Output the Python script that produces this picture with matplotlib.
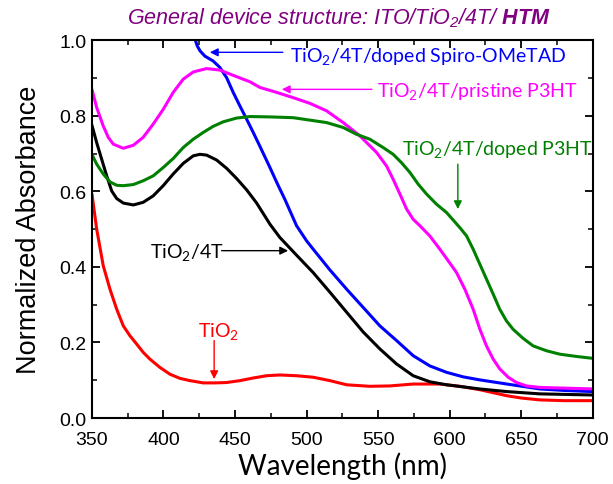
import numpy as np
import matplotlib
matplotlib.use('Agg')
import matplotlib.pyplot as plt
import matplotlib.ticker as ticker

# ─── DATA ────────────────────────────────────────────────────────────────────
tio2_nm  = [350, 353.3, 357.9, 362.6, 367.3, 371.9, 376.5, 381.2, 385.8, 390.5, 397.5,
            404.5, 411.5, 418.5, 427.8, 436, 444.1, 453.4, 462.7, 472, 481.3, 493,
            504.6, 516.3, 528, 544.2, 558.2, 574.5, 593.1, 607.1, 621, 640, 650, 663,
            680, 700]
tio2_abs = [0.593, 0.500, 0.403, 0.341, 0.288, 0.244, 0.218, 0.196, 0.174, 0.156, 0.134,
            0.116, 0.105, 0.099, 0.093, 0.093, 0.094, 0.099, 0.106, 0.112, 0.114, 0.112,
            0.108, 0.099, 0.088, 0.084, 0.085, 0.090, 0.090, 0.084, 0.075, 0.059, 0.053,
            0.048, 0.046, 0.046]

t4_nm  = [350, 353.3, 356.8, 360.3, 363.8, 367.3, 371.9, 378.9, 385.8, 392.8, 399.8,
          406.8, 413.8, 420.8, 425.4, 430.1, 437.1, 444.1, 451.1, 458.1, 465.1, 474.4,
          481.3, 493, 504.6, 516.3, 528, 539.5, 551.2, 562.9, 574.5, 586.1, 597.8,
          621, 640, 663, 700]
t4_abs = [0.775, 0.729, 0.685, 0.641, 0.601, 0.581, 0.569, 0.564, 0.571, 0.588, 0.615,
          0.646, 0.674, 0.694, 0.698, 0.696, 0.683, 0.661, 0.634, 0.604, 0.569, 0.513,
          0.478, 0.431, 0.385, 0.333, 0.280, 0.228, 0.183, 0.143, 0.112, 0.096, 0.088,
          0.077, 0.070, 0.064, 0.061]

spiro_nm  = [419, 422, 423.6, 425.5, 428.9, 434.7, 439.4, 444.1, 448.7, 453.4, 458.1,
             462.7, 467.4, 474.4, 479.6, 484.8, 493, 500, 504.6, 516.3, 528, 539.5,
             551.2, 562.9, 574.5, 586.1, 597.8, 609.4, 621, 640, 663, 680, 700]
spiro_abs = [1.06, 1.003, 0.985, 0.972, 0.958, 0.945, 0.928, 0.901, 0.862, 0.826, 0.791,
             0.756, 0.719, 0.663, 0.620, 0.579, 0.509, 0.469, 0.447, 0.392, 0.341, 0.293,
             0.244, 0.205, 0.165, 0.138, 0.121, 0.109, 0.101, 0.090, 0.077, 0.073, 0.070]

prist_nm  = [350, 353.3, 357.9, 361.4, 364.9, 371.9, 378.9, 385.8, 392.8, 399.8, 406.8,
             413.8, 420.8, 430.1, 439.4, 448.7, 460.4, 467.4, 479, 490.6, 502.3, 514,
             525.6, 537.2, 548.9, 555.9, 560.5, 565.2, 569.9, 574.5, 579.2, 586.1,
             593.1, 599, 604.8, 610.6, 616.4, 621.1, 625.7, 630.4, 635, 640.9, 646.7,
             653.7, 663, 681.6, 700]
prist_abs = [0.870, 0.822, 0.773, 0.743, 0.725, 0.714, 0.722, 0.743, 0.778, 0.817, 0.862,
             0.897, 0.916, 0.925, 0.921, 0.907, 0.890, 0.875, 0.862, 0.848, 0.833, 0.813,
             0.782, 0.747, 0.703, 0.667, 0.632, 0.593, 0.553, 0.526, 0.509, 0.482,
             0.447, 0.416, 0.385, 0.341, 0.288, 0.235, 0.191, 0.156, 0.130, 0.108, 0.094,
             0.085, 0.081, 0.079, 0.077]

doped_nm  = [350, 353.3, 357.9, 362.6, 367.3, 371.9, 378.9, 385.8, 392.8, 399.8, 406.8,
             413.8, 420.8, 427.8, 434.7, 441.7, 451.1, 460.4, 474.4, 490.6, 514, 525.6,
             534.9, 544.2, 553.5, 560.5, 566.3, 572.2, 578, 583.8, 590.8, 597.8, 607.1,
             611.8, 616.4, 621.1, 625.7, 630.4, 635, 639.7, 644.3, 651.3, 658.3, 667.7,
             677, 688.6, 700]
doped_abs = [0.698, 0.672, 0.646, 0.625, 0.616, 0.615, 0.618, 0.628, 0.641, 0.663, 0.687,
             0.716, 0.738, 0.756, 0.772, 0.784, 0.794, 0.798, 0.797, 0.795, 0.782, 0.769,
             0.751, 0.738, 0.716, 0.698, 0.676, 0.650, 0.619, 0.593, 0.566, 0.544, 0.504,
             0.482, 0.447, 0.407, 0.368, 0.328, 0.288, 0.257, 0.235, 0.211, 0.191, 0.178,
             0.169, 0.163, 0.158]

# ─── STYLE ───────────────────────────────────────────────────────────────────
plt.rcParams.update({
    'font.family': 'Liberation Sans',
    'mathtext.default': 'regular',
    'mathtext.fontset': 'custom',
    'mathtext.bf': 'Liberation Sans:italic:bold',
    'axes.linewidth': 1.5,
    'xtick.direction': 'in',
    'ytick.direction': 'in',
    'xtick.top': True,
    'ytick.right': True,
    'lines.solid_joinstyle': 'round',
    'lines.solid_capstyle': 'round',
})

LW = 2.2
ANN_FONT = 'Lato'
ANN_SIZE = 14

fig = plt.figure(figsize=(6.13, 4.85), dpi=100)
ax = fig.add_axes([0.150, 0.136, 0.817, 0.779])

ax.plot(tio2_nm,  tio2_abs,  color='#ff0000', lw=LW)
ax.plot(t4_nm,    t4_abs,    color='black',   lw=LW)
ax.plot(spiro_nm, spiro_abs, color='#0000ff', lw=LW)
ax.plot(prist_nm, prist_abs, color='#ff00ff', lw=LW)
ax.plot(doped_nm, doped_abs, color='#008000', lw=LW)

ax.set_xlim(350, 700)
ax.set_ylim(0, 1.0)
ax.xaxis.set_major_locator(ticker.MultipleLocator(50))
ax.xaxis.set_minor_locator(ticker.MultipleLocator(25))
ax.yaxis.set_major_locator(ticker.MultipleLocator(0.2))
ax.yaxis.set_minor_locator(ticker.MultipleLocator(0.1))
ax.yaxis.set_major_formatter(ticker.FormatStrFormatter('%.1f'))
ax.tick_params(which='major', length=6, width=1.3, labelsize=14)
ax.tick_params(axis='x', which='major', pad=9)
ax.tick_params(axis='y', which='major', pad=4)
ax.tick_params(which='minor', length=3.5, width=1.1)

ax.set_xlabel('Wavelength (nm)', family=ANN_FONT, fontsize=20, labelpad=3)
ax.set_ylabel('Normalized Absorbance', fontsize=19.5, labelpad=12)

fig.text(0.552, 0.962, r'General device structure: ITO/TiO$_2$/4T/ $\mathbf{HTM}$',
         color='#800080', fontsize=15.5, style='italic', ha='center', va='center')

# ─── ANNOTATIONS ─────────────────────────────────────────────────────────────
def label(text, color, txy, tail, head):
    ax.text(txy[0], txy[1], text, color=color, family=ANN_FONT, fontsize=ANN_SIZE,
            ha='left', va='center')
    ax.annotate('', xy=head, xytext=tail,
                arrowprops=dict(arrowstyle='-|>', color=color, lw=1.0,
                                mutation_scale=12, shrinkA=0, shrinkB=0))

label('TiO$_2$/4T/doped Spiro-OMeTAD', '#0000ff', (488.3, 0.960), (483.4, 0.968), (432.4, 0.968))
label('TiO$_2$/4T/pristine P3HT', '#ff00ff', (549, 0.867), (545.6, 0.870), (482.7, 0.870))
label('TiO$_2$/4T/doped P3HT', '#008000', (566.6, 0.714), (605.7, 0.672), (605.7, 0.553))
label('TiO$_2$/4T', 'black', (390.5, 0.440), (440.6, 0.443), (487.1, 0.443))
label('TiO$_2$', '#ff0000', (424.3, 0.232), (435.4, 0.205), (435.4, 0.103))

fig.savefig('out.png', dpi=100)
